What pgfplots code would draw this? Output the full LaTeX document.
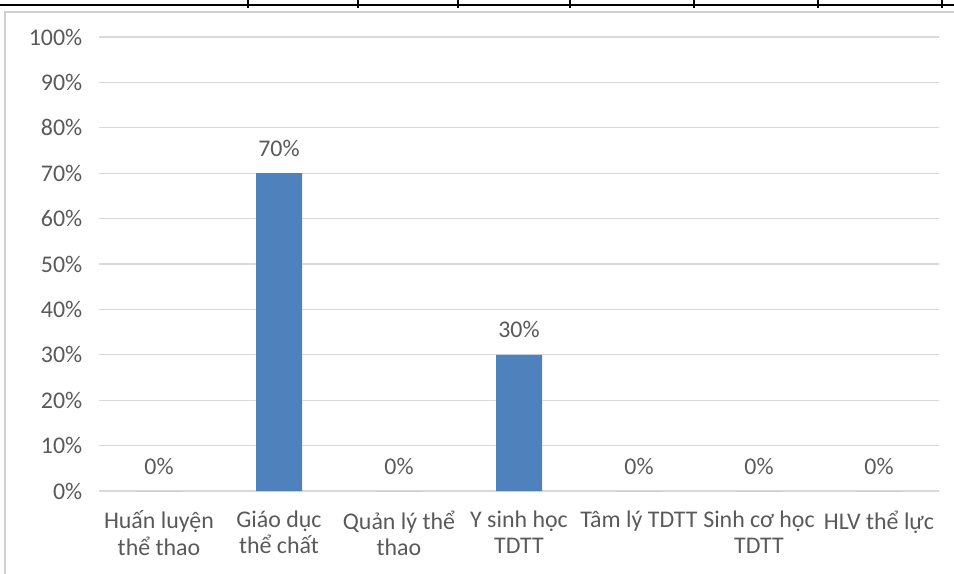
\documentclass[border=0pt]{standalone}
\usepackage{fontspec}
\setmainfont{Carlito}
\usepackage{pgfplots}
\pgfplotsset{compat=1.18}
\definecolor{txtc}{HTML}{595959}
\definecolor{gridc}{HTML}{D9D9D9}
\definecolor{framec}{HTML}{D0D0D0}
\definecolor{barc}{HTML}{4F81BD}
\begin{document}
\begin{tikzpicture}[x=0.75bp,y=0.75bp]
% table rule above the chart
\draw[black,line width=1.5bp] (0,569) -- (954,569);
\foreach \xx in {248,358,458,570,694,818,942}
  \draw[black,line width=1.2bp] (\xx,574) -- (\xx,566);
% chart frame
\draw[framec,line width=1.2bp] (5,-10) -- (5,562) -- (970,562);
\begin{axis}[
  at={(74.25bp,62.25bp)}, anchor=south west,
  scale only axis, width=630bp, height=340.5bp,
  xmin=-0.5, xmax=6.5, ymin=0, ymax=100,
  ybar, bar width=34.5bp,
  axis line style={draw=none},
  tick style={draw=none},
  xmajorgrids=false,
  ymajorgrids, grid style={draw=gridc,line width=0.9bp},
  ytick={0,10,...,100},
  yticklabel={\pgfmathprintnumber{\tick}\%},
  /pgf/number format/assume math mode=true,
  yticklabel style={font=\fontsize{18}{21}\selectfont, text=txtc, xshift=-9bp},
  xtick=data,
  xticklabels={{Huấn luyện\\thể thao},{Giáo dục\\thể chất},{Quản lý thể\\thao},{Y sinh học\\TDTT},{Tâm lý TDTT},{Sinh cơ học\\TDTT},{HLV thể lực}},
  xticklabel style={font=\fontsize{18}{20}\selectfont, text=txtc, align=center, anchor=north, yshift=-7bp},
  nodes near coords={\pgfmathprintnumber{\pgfplotspointmeta}\%},
  nodes near coords style={font=\fontsize{18}{21}\selectfont, text=txtc, yshift=9bp},
  clip=false,
]
\addplot[fill=barc, draw=none] coordinates
{(0,0) (1,70) (2,0) (3,30) (4,0) (5,0) (6,0)};
\end{axis}
\pgfresetboundingbox
\useasboundingbox (0,0) rectangle (954,574);
\end{tikzpicture}
\end{document}
